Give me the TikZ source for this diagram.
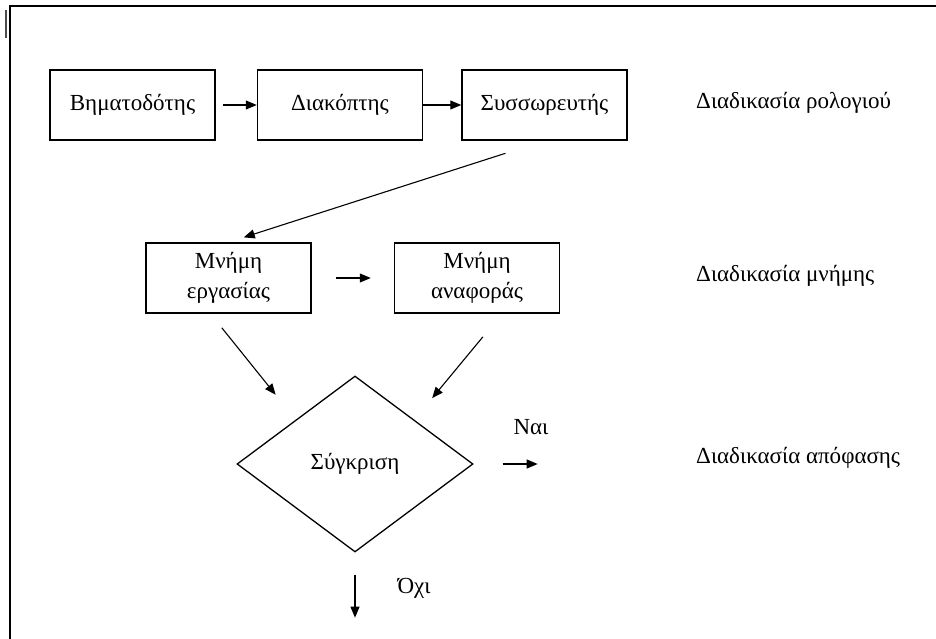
\documentclass[tikz,border=0pt]{standalone}
\usepackage{fontspec}
\setmainfont{Liberation Serif}
\usepackage{tikz}
\usetikzlibrary{arrows.meta,positioning,shapes.geometric}

\begin{document}
\begin{tikzpicture}[x=1pt,y=-1pt,
  box/.style={draw,line width=1.5pt,align=center,font=\fontsize{23}{30}\selectfont,minimum width=165pt,minimum height=70pt,inner sep=0pt},
  dec/.style={draw,diamond,line width=1.3pt,font=\fontsize{23}{27}\selectfont,minimum width=236pt,minimum height=176pt,inner sep=0pt},
  lbl/.style={font=\fontsize{23}{27}\selectfont,inner sep=0pt},
  arr/.style={-{Triangle[length=11pt,width=9pt]},line width=1.1pt}
]
  \useasboundingbox (0,0) rectangle (936,639);
  % frame
  \draw[line width=1.8pt] (10,639) -- (10,6) -- (936,6);
  \draw[line width=1.4pt,black!70] (6,10) -- (6,38);

  \node[box] (pace) at (132.5,105) {Βηματοδότης};
  \node[box,right=41pt of pace] (switch) {Διακόπτης};
  \node[box,right=38pt of switch] (sum) {Συσσωρευτής};
  \draw[arr,shorten <=7pt] (pace) -- (switch);
  \draw[arr] (switch) -- (sum);
  \node[lbl,anchor=west] (clk) at (696,103) {Διαδικασία ρολογιού};

  \node[box] (work) at (228.5,278) {Μνήμη\\εργασίας};
  \node[box,right=82pt of work] (ref) {Μνήμη\\αναφοράς};
  \draw[arr,shorten <=41pt,shorten >=16pt] (sum.south) -- (work.north);
  \draw[arr,shorten <=24pt,shorten >=23pt] (work) -- (ref);
  \node[lbl,anchor=west] (mem) at (696,276) {Διαδικασία μνήμης};

  \node[dec] (cmp) at (355,464) {Σύγκριση};
  \draw[arr,shorten <=18pt,shorten >=32pt] ([xshift=-18pt]work.south) -- (cmp.north west);
  \draw[arr,shorten <=30pt,shorten >=28pt] ([xshift=25pt]ref.south) -- (cmp.north east);
  \node[lbl,anchor=west] (dcs) at (696,458) {Διαδικασία απόφασης};

  \coordinate (yes) at ([xshift=64pt]cmp.east);
  \coordinate (no) at ([yshift=-65pt]cmp.south);
  \draw[arr,shorten <=29pt] (cmp.east) -- (yes);
  \draw[arr,shorten <=22pt] (cmp.south) -- (no);
  \node[lbl] (yeslbl) at (531,427) {Ναι};
  \node[lbl] (nolbl) at (414,588) {Όχι};
\end{tikzpicture}
\end{document}
